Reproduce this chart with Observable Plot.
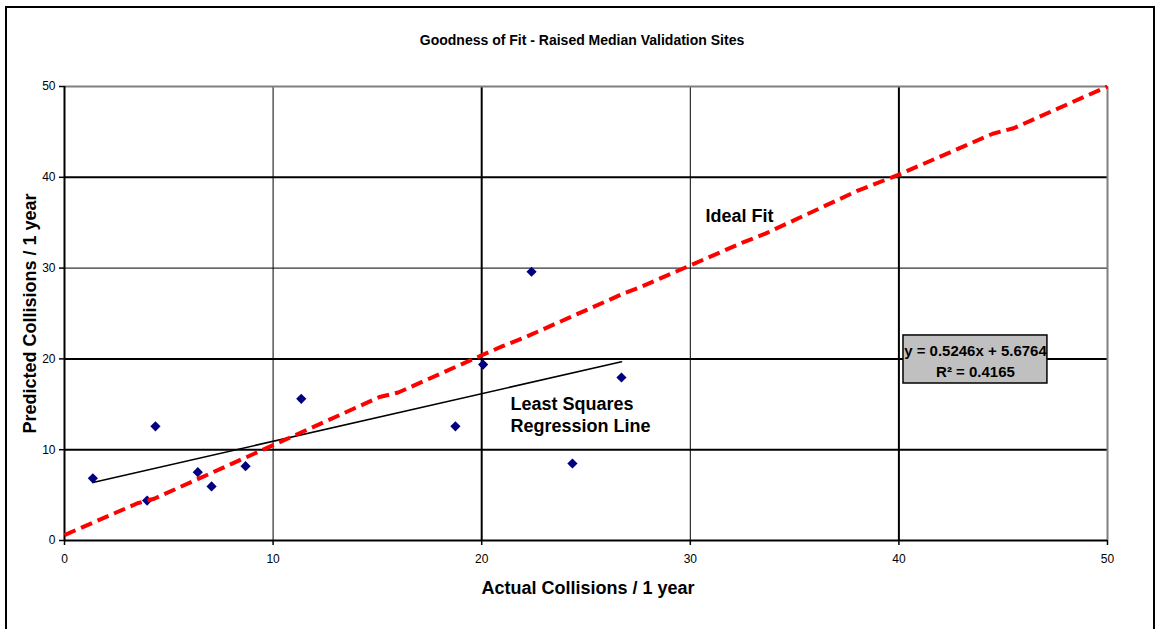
<!DOCTYPE html>
<html><head><meta charset="utf-8">
<script src="https://cdn.jsdelivr.net/npm/d3@7"></script>
<script src="https://cdn.jsdelivr.net/npm/@observablehq/plot@0.6"></script>
<style>
body{margin:0;background:#fff;}
#wrap{position:relative;width:1157px;height:629px;overflow:hidden;}
#chart{position:absolute;left:0;top:0;}
#border{position:absolute;left:5px;top:6px;width:1146px;height:700px;border:2px solid #000;pointer-events:none;}
</style></head><body>
<div id="wrap"><div id="chart"></div><div id="border"></div></div>
<script>
// Data
const actual    = [1.36, 3.96, 4.36, 6.39, 7.05, 8.68, 11.35, 18.74, 20.07, 22.39, 24.35, 26.7];
const predicted = [6.85, 4.4, 12.58, 7.52, 5.95, 8.18, 15.6, 12.58, 19.38, 29.6, 8.48, 17.95];

// "Ideal fit" line as drawn (slightly wobbly polyline)
const idealX = [0, 3.5, 4.3, 10, 15.1, 16, 20, 21, 22, 26.8, 27.5, 32.5, 33.6, 38, 40, 44.5, 45.5, 50];
const idealY = [0.6, 4.1, 4.6, 10.5, 15.8, 16.3, 20.4, 21.4, 22.3, 27.2, 27.8, 32.8, 33.8, 38.5, 40.3, 44.8, 45.4, 50];

// Least squares regression
const regSlope = 0.5246;
const regIntercept = 5.6764;
const regR2 = 0.4165;
const regXRange = [1.36, 26.7];

const xTicks = [0, 10, 20, 30, 40, 50];
const yTicks = [0, 10, 20, 30, 40, 50];

const title = "Goodness of Fit - Raised Median Validation Sites";
const xLabel = "Actual Collisions / 1 year";
const yLabel = "Predicted Collisions / 1 year";
const idealLabel = "Ideal Fit";
const regLabel = "Least Squares\nRegression Line";
const eqLabel = `y = ${regSlope}x + ${regIntercept}\nR² = ${regR2}`;

const points = actual.map((a, i) => ({x: a, y: predicted[i]}));
const ideal = idealX.map((x, i) => ({x, y: idealY[i]}));
const reg = regXRange.map(x => ({x, y: regSlope * x + regIntercept}));

const font = "Liberation Sans, Arial, Helvetica, sans-serif";

const chart = Plot.plot({
  width: 1157,
  height: 629,
  marginLeft: 64,
  marginRight: 50,
  marginTop: 86,
  marginBottom: 89,
  style: {fontFamily: font, fontSize: "12px", background: "transparent", color: "#000"},
  x: {domain: [0, 50]},
  y: {domain: [0, 50]},
  marks: [
    Plot.gridX([10, 30], {stroke: "#000", strokeOpacity: 1, strokeWidth: 1}),
    Plot.gridX([20, 40], {stroke: "#000", strokeOpacity: 1, strokeWidth: 2}),
    Plot.gridY([30], {stroke: "#000", strokeOpacity: 1, strokeWidth: 1}),
    Plot.gridY([10, 20, 40], {stroke: "#000", strokeOpacity: 1, strokeWidth: 2}),
    Plot.ruleY([50], {stroke: "#808080", strokeWidth: 2}),
    Plot.ruleX([50], {stroke: "#808080", strokeWidth: 2}),
    Plot.ruleX([0], {stroke: "#000", strokeWidth: 2}),
    Plot.ruleY([0], {stroke: "#000", strokeWidth: 2}),
    Plot.axisX({ticks: xTicks, tickSize: 5, tickPadding: 9, fontSize: 12, label: null, strokeWidth: 1.5}),
    Plot.axisY({ticks: yTicks, tickSize: 5, tickPadding: 4, fontSize: 12, label: null, strokeWidth: 1.5}),
    Plot.line(reg, {x: "x", y: "y", stroke: "#000", strokeWidth: 1.6}),
    Plot.dot(points, {x: "x", y: "y", symbol: "diamond2", r: 4.6, fill: "#000080", stroke: "none"}),
    Plot.line(ideal, {x: "x", y: "y", stroke: "#ff0000", strokeWidth: 4, strokeDasharray: "12,6", strokeLinecap: "butt"}),
    Plot.text([idealLabel], {x: 30.73, y: 35.7, text: d => d, textAnchor: "start", fontSize: 18, fontWeight: "bold"}),
    Plot.text([regLabel], {x: 21.38, y: 13.9, text: d => d, textAnchor: "start", fontSize: 18, fontWeight: "bold", lineHeight: 1.22}),
    Plot.rect([eqLabel], {x1: 40.22, x2: 47.12, y1: 17.29, y2: 22.58, fill: "#c0c0c0", stroke: "#000", strokeWidth: 1.5}),
    Plot.text([eqLabel], {x: 43.67, y: 19.93, text: d => d, fontSize: 15, fontWeight: "bold", lineHeight: 1.45}),
    Plot.text([title], {frameAnchor: "top", lineAnchor: "middle", dy: -46, dx: -4, text: d => d, fontSize: 14, fontWeight: "bold"}),
    Plot.text([xLabel], {frameAnchor: "bottom", lineAnchor: "middle", dy: 48, dx: 2, text: d => d, fontSize: 18, fontWeight: "bold"}),
    Plot.text([yLabel], {frameAnchor: "left", textAnchor: "middle", lineAnchor: "middle", dx: -34, rotate: -90, text: d => d, fontSize: 18, fontWeight: "bold"})
  ]
});
document.getElementById("chart").appendChild(chart);
</script>
</body></html>
